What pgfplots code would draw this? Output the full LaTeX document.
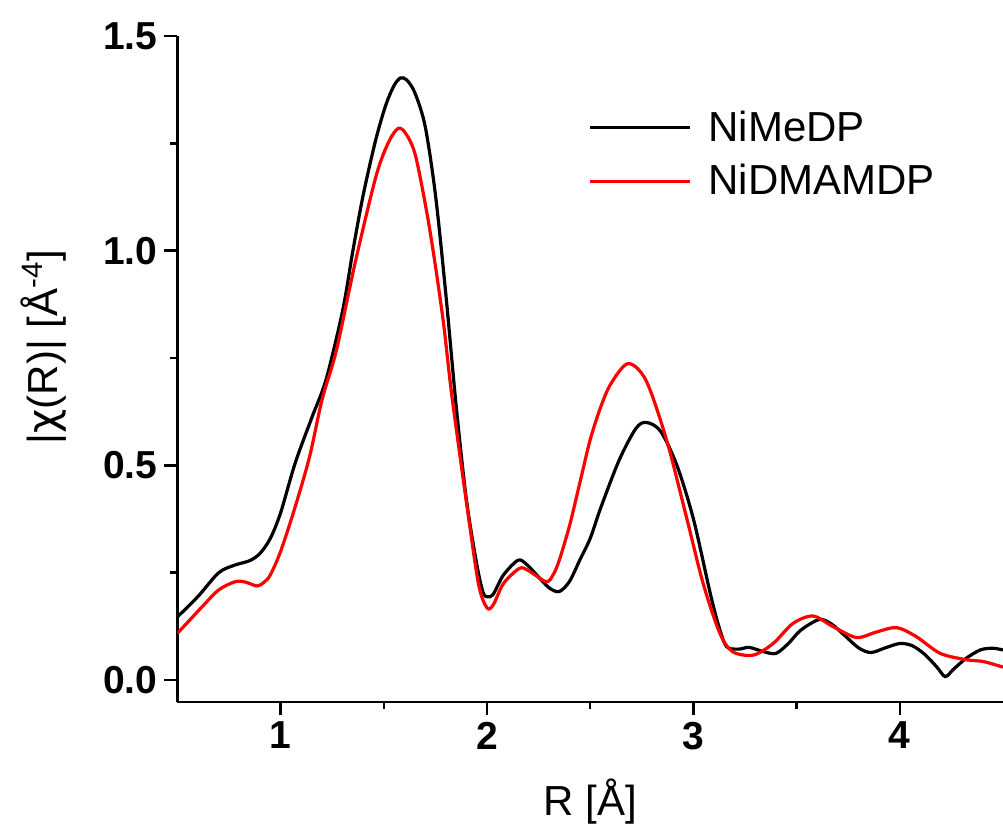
\documentclass[border=0pt]{standalone}
\usepackage{fontspec}
\setmainfont{Liberation Sans}
\newfontfamily\chifont{DejaVu Sans}
\usepackage{pgfplots}
\pgfplotsset{compat=1.18}

\begin{document}
\begin{tikzpicture}
\useasboundingbox (-88.75pt,-63pt) rectangle (412.75pt,351pt);
\begin{axis}[
    at={(0pt,0pt)}, anchor=south west,
    scale only axis, width=412.75pt, height=333pt,
    xmin=0.5, xmax=4.5, ymin=-0.0512, ymax=1.5,
    axis x line=bottom, axis y line=left,
    axis line style={line width=1.3pt, -},
    xtick={1,2,3,4}, minor xtick={1.5,2.5,3.5},
    ytick={0,0.5,1,1.5}, minor ytick={0.25,0.75,1.25},
    tick align=outside,
    major tick length=6.5pt, minor tick length=3.5pt,
    tick style={line width=1.2pt, black},
    /pgf/number format/assume math mode=true,
    ticklabel style={font=\bfseries\fontsize{19.5}{20}\selectfont},
    yticklabel style={/pgf/number format/.cd, fixed, fixed zerofill, precision=1},
    xlabel={R [Å]},
    ylabel={|{\chifont χ}(R)| [Å\textsuperscript{-4}]},
    label style={font=\fontsize{21}{24}\selectfont},
    xlabel style={at={(rel axis cs:0.5,-0.150)}, anchor=center},
    ylabel style={at={(rel axis cs:-0.1623,0.533)}, anchor=center},
    legend style={at={(rel axis cs:0.49,0.90)}, anchor=north west,
        draw=none, fill=none, font=\fontsize{21}{24}\selectfont,
        row sep=6pt, column sep=6.5pt},
    legend cell align=left,
    legend image code/.code={\draw[#1] (0pt,0pt) -- (50pt,0pt);},
]
\addplot[black, line width=1.6pt, smooth] coordinates {
(0.50,0.147) (0.60,0.195) (0.70,0.250) (0.78,0.268) (0.85,0.278) (0.90,0.295)
(0.95,0.330) (1.00,0.390) (1.07,0.505) (1.15,0.610) (1.22,0.700) (1.30,0.860)
(1.35,1.000) (1.40,1.130) (1.46,1.257) (1.51,1.340) (1.55,1.385) (1.58,1.402)
(1.61,1.398) (1.65,1.368) (1.70,1.290) (1.75,1.130) (1.80,0.900) (1.85,0.640)
(1.90,0.420) (1.95,0.270) (1.98,0.205) (2.00,0.194) (2.03,0.200) (2.08,0.245)
(2.15,0.279) (2.19,0.270) (2.24,0.245) (2.30,0.215) (2.35,0.206) (2.40,0.230)
(2.45,0.280) (2.50,0.330) (2.55,0.400) (2.64,0.512) (2.72,0.585) (2.77,0.600)
(2.84,0.580) (2.92,0.500) (3.00,0.375) (3.08,0.205) (3.12,0.130) (3.16,0.078)
(3.22,0.072) (3.27,0.076) (3.34,0.066) (3.40,0.062) (3.46,0.085) (3.52,0.116)
(3.61,0.141) (3.67,0.130) (3.73,0.105) (3.80,0.075) (3.86,0.064) (3.93,0.075)
(4.00,0.085) (4.06,0.080) (4.12,0.060) (4.18,0.030) (4.22,0.008) (4.26,0.025)
(4.32,0.050) (4.39,0.070) (4.45,0.074) (4.50,0.070)
};
\addlegendentry{NiMeDP}
\addplot[red, line width=1.6pt, smooth] coordinates {
(0.50,0.109) (0.56,0.140) (0.62,0.171) (0.70,0.210) (0.78,0.229) (0.83,0.228)
(0.886,0.219) (0.92,0.228) (0.95,0.245) (1.00,0.300) (1.07,0.403) (1.14,0.520)
(1.20,0.652) (1.27,0.768) (1.36,0.970) (1.46,1.170) (1.52,1.250) (1.57,1.285)
(1.61,1.270) (1.655,1.218) (1.72,1.056) (1.785,0.846) (1.83,0.660) (1.91,0.380)
(1.96,0.220) (2.00,0.168) (2.03,0.175) (2.08,0.225) (2.157,0.260) (2.20,0.255)
(2.286,0.229) (2.32,0.245) (2.35,0.279) (2.40,0.360) (2.45,0.460) (2.50,0.560)
(2.55,0.635) (2.60,0.690) (2.683,0.737) (2.77,0.698) (2.87,0.559) (2.966,0.380)
(3.047,0.225) (3.128,0.109) (3.19,0.066) (3.29,0.058) (3.386,0.085) (3.483,0.132)
(3.58,0.149) (3.678,0.124) (3.79,0.099) (3.888,0.112) (3.985,0.122) (4.08,0.101)
(4.196,0.062) (4.325,0.047) (4.405,0.043) (4.50,0.030)
};
\addlegendentry{NiDMAMDP}
\end{axis}
\end{tikzpicture}
\end{document}
